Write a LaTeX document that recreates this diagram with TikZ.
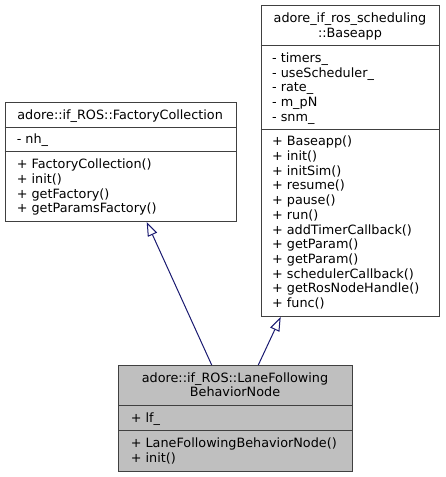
\documentclass[tikz,border=0pt]{standalone}
\usepackage{fontspec}
\setmainfont{DejaVu Sans}
\usetikzlibrary{arrows.meta}
\definecolor{boxline}{HTML}{404040}
\definecolor{boxfill}{HTML}{BFBFBF}
\definecolor{edgecol}{HTML}{191970}
\begin{document}
\begin{tikzpicture}[x=1pt,y=-1pt,
  umlbox/.style={draw=boxline, line width=1pt, inner sep=0pt, anchor=north west},
  sepline/.style={draw=boxline, line width=1pt},
  txt/.style={inner sep=0pt, font=\fontsize{12.8}{14.7}\selectfont},
  inherit/.style={draw=edgecol, line width=1pt, -{Triangle[open, length=14pt, width=10pt]}}]
\useasboundingbox (0,0) rectangle (445,477);
% boxes
\node[umlbox, fill=white, minimum width=231.2pt, minimum height=119pt] (L) at (4.5,102) {};
\node[umlbox, fill=white, minimum width=178.6pt, minimum height=311pt] (R) at (260.7,5) {};
\node[umlbox, fill=boxfill, minimum width=233.4pt, minimum height=105.7pt] (B) at (118.3,365) {};
% separators
\draw[sepline] ([yshift=-25pt]L.north west) -- ([yshift=-25pt]L.north east);
\draw[sepline] ([yshift=-49.7pt]L.north west) -- ([yshift=-49.7pt]L.north east);
\draw[sepline] ([yshift=-40.7pt]R.north west) -- ([yshift=-40.7pt]R.north east);
\draw[sepline] ([yshift=-124.3pt]R.north west) -- ([yshift=-124.3pt]R.north east);
\draw[sepline] ([yshift=-40pt]B.north west) -- ([yshift=-40pt]B.north east);
\draw[sepline] ([yshift=-65.7pt]B.north west) -- ([yshift=-65.7pt]B.north east);
% left box texts
\node[txt, anchor=base] (Lt) at (120.1,119.0) {adore::if\_ROS::FactoryCollection};
\node[txt, anchor=base west] (La) at (16.6,143.8) {- nh\_};
\foreach \t [count=\i from 0] in {+ FactoryCollection(), + init(), + getFactory(), + getParamsFactory()}
  \node[txt, anchor=base west, name=Lm\i] at (16.6,168.6+\i*14.7) {\t};
% right box texts
\node[txt, anchor=base] (Rt0) at (350,22.4) {adore\_if\_ros\_scheduling};
\node[txt, anchor=base] (Rt1) at (350,37.1) {::Baseapp};
\foreach \t [count=\i from 0] in {- timers\_, - useScheduler\_, - rate\_, - m\_pN, - snm\_}
  \node[txt, anchor=base west, name=Ra\i] at (271.9,62.4+\i*14.7) {\t};
\foreach \t [count=\i from 0] in {+ Baseapp(), + init(), + initSim(), + resume(), + pause(), + run(), + addTimerCallback(), + getParam(), + getParam(), + schedulerCallback(), + getRosNodeHandle(), + func()}
  \node[txt, anchor=base west, name=Rm\i] at (271.9,145.8+\i*14.7) {\t};
% bottom box texts
\node[txt, anchor=base] (Bt0) at (235,382.2) {adore::if\_ROS::LaneFollowing};
\node[txt, anchor=base] (Bt1) at (235,396.9) {BehaviorNode};
\node[txt, anchor=base west] (Ba) at (130.6,422.3) {+ lf\_};
\node[txt, anchor=base west] (Bm0) at (130.6,447.9) {+ LaneFollowingBehaviorNode()};
\node[txt, anchor=base west] (Bm1) at (130.6,462.6) {+ init()};
% inheritance arrows
\draw[inherit] ([xshift=93.4pt]B.north west) -- ([xshift=142.2pt]L.south west);
\draw[inherit] ([xshift=140pt]B.north west) -- ([xshift=20pt]R.south west);
\end{tikzpicture}
\end{document}
